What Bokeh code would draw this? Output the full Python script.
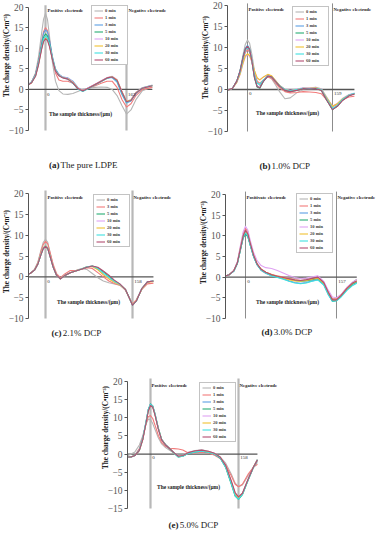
from bokeh.plotting import figure
from bokeh.models import Range1d, FixedTicker, Label, Legend, LegendItem, Spacer, Title
from bokeh.layouts import column, row
from bokeh.embed import file_html
from bokeh.resources import INLINE

SERIF = "Liberation Serif"

# ---------------- data ----------------
NAMES8 = ["0 min", "1 min", "3 min", "5 min", "10 min", "20 min", "30 min", "60 min"]
NAMES7 = ["0 min", "3 min", "5 min", "10 min", "20 min", "30 min", "60 min"]
COL8 = ["#b5b5b5", "#f27b7b", "#5b9fe3", "#27ae74", "#dfa3f2", "#f1c232", "#3fe0e0", "#b34d72"]
COL7 = ["#b5b5b5", "#f27b7b", "#27ae74", "#dfa3f2", "#f1c232", "#3fe0e0", "#b34d72"]

# (a) pure LDPE
A_X = [-36, -28, -20, -14, -8, -4, 0, 4, 8, 14, 20, 27, 35, 45, 55, 65, 75, 88, 100, 112, 124, 134, 144, 154, 163, 172, 182, 195, 215]
A_0 = [1.0, 1.8, 4.0, 8.0, 13.5, 17.0, 18.5, 17.0, 13.0, 6.5, 2.0, -0.3, -1.1, -1.2, -1.0, -0.5, 0.0, 0.3, 0.5, 0.6, 0.5, 0.0, -1.5, -4.0, -6.0, -5.0, -2.5, -0.3, 0.6]
A_1 = [1.0, 1.8, 3.8, 7.0, 11.5, 14.0, 15.0, 14.3, 12.0, 7.5, 4.0, 2.3, 2.0, 2.0, 1.5, 0.3, -0.2, 0.3, 0.9, 1.5, 2.0, 2.0, 0.5, -2.5, -4.3, -3.5, -1.5, 0.0, 0.5]
A_3 = [1.0, 1.8, 3.7, 6.8, 11.0, 13.6, 14.5, 14.0, 12.0, 8.0, 5.0, 3.7, 3.0, 2.8, 2.0, 0.5, -0.3, 0.5, 1.2, 2.0, 2.7, 2.9, 1.8, -1.3, -3.3, -2.8, -1.0, 0.3, 1.0]
A_5 = [1.0, 1.7, 3.5, 6.5, 10.5, 12.7, 13.5, 13.0, 11.2, 7.6, 4.8, 3.5, 2.9, 2.6, 1.6, 0.2, -0.4, 0.4, 1.2, 2.0, 2.8, 3.1, 2.2, -0.8, -3.0, -2.6, -0.8, 0.4, 1.0]
A_10 = [1.0, 1.7, 3.4, 6.3, 10.0, 12.0, 12.8, 12.3, 10.8, 7.4, 4.7, 3.5, 3.0, 2.7, 1.8, 0.4, -0.3, 0.5, 1.3, 2.1, 2.9, 3.2, 2.4, -0.5, -2.8, -2.5, -0.7, 0.4, 1.0]
A_20 = [1.0, 1.6, 3.3, 6.1, 9.8, 11.8, 12.5, 12.1, 10.6, 7.3, 4.6, 3.4, 2.9, 2.6, 1.7, 0.3, -0.4, 0.4, 1.2, 2.0, 2.8, 3.1, 2.3, -0.6, -2.9, -2.6, -0.8, 0.3, 0.9]
A_30 = [1.0, 1.7, 3.4, 6.3, 10.1, 12.2, 13.0, 12.5, 10.9, 7.4, 4.7, 3.4, 2.9, 2.5, 1.5, 0.1, -0.5, 0.3, 1.1, 1.9, 2.7, 3.0, 2.0, -0.9, -3.1, -2.7, -0.9, 0.3, 0.9]
A_60 = [1.0, 1.6, 3.2, 6.0, 9.6, 11.6, 12.3, 11.9, 10.4, 7.2, 4.5, 3.3, 2.8, 2.5, 1.6, 0.2, -0.4, 0.4, 1.2, 2.0, 2.8, 3.0, 2.2, -0.7, -3.0, -2.7, -0.9, 0.3, 0.9]
A_TICKS = [0, 163]

# (b) 1.0% DCP
B_X = [-37, -28, -20, -14, -8, -4, 0, 4, 8, 13, 18, 23, 30, 38, 45, 52, 60, 70, 80, 92, 104, 116, 128, 138, 148, 159, 168, 178, 190, 200]
B_0 = [-0.2, 0.3, 2.0, 4.5, 8.5, 10.8, 11.8, 11.0, 8.5, 4.5, 1.8, 1.0, 2.2, 3.0, 2.6, 1.2, -0.5, -2.2, -2.0, -0.8, 0.0, 0.3, 0.5, 0.2, -1.8, -4.2, -3.5, -2.3, -1.4, -1.0]
B_1 = [-0.2, 0.3, 1.8, 4.0, 7.2, 8.8, 9.5, 8.9, 7.0, 4.0, 2.0, 1.5, 2.3, 3.0, 2.7, 1.6, 0.4, -0.5, -0.8, -0.7, -0.5, -0.6, -0.7, -1.0, -2.5, -4.0, -3.5, -2.4, -1.8, -1.6]
B_3 = [-0.2, 0.3, 2.0, 4.4, 8.0, 9.8, 10.5, 9.7, 7.0, 3.0, 0.8, 0.4, 2.0, 3.3, 3.1, 2.1, 0.9, -0.1, -0.4, -0.1, 0.3, 0.1, 0.3, -0.1, -2.4, -4.7, -3.9, -2.4, -1.3, -0.9]
B_5 = [-0.2, 0.3, 2.0, 4.3, 7.8, 9.6, 10.3, 9.5, 6.8, 2.8, 0.6, 0.3, 2.0, 3.2, 3.0, 2.0, 0.8, -0.2, -0.5, -0.2, 0.2, 0.0, 0.2, -0.2, -2.5, -4.8, -4.0, -2.5, -1.4, -1.0]
B_10 = [-0.2, 0.3, 1.7, 3.5, 6.3, 7.8, 8.3, 7.9, 6.6, 4.4, 2.7, 2.3, 3.0, 3.5, 3.2, 2.2, 1.0, 0.1, -0.2, 0.1, 0.4, 0.4, 0.5, 0.1, -1.9, -3.9, -3.3, -2.1, -1.2, -0.9]
B_20 = [-0.2, 0.3, 1.7, 3.6, 6.5, 8.0, 8.5, 8.1, 6.8, 4.5, 2.8, 2.3, 3.0, 3.6, 3.3, 2.2, 1.0, 0.0, -0.3, 0.0, 0.3, 0.3, 0.4, 0.0, -2.0, -4.0, -3.4, -2.2, -1.3, -1.0]
B_30 = [-0.2, 0.3, 1.9, 4.1, 7.5, 9.3, 10.0, 9.3, 7.0, 3.5, 1.5, 1.2, 2.3, 3.2, 3.0, 2.0, 0.9, 0.0, -0.3, 0.0, 0.3, 0.2, 0.3, 0.0, -2.2, -4.5, -3.8, -2.3, -1.3, -0.9]
B_60 = [-0.2, 0.3, 2.0, 4.3, 7.8, 9.6, 10.3, 9.5, 6.9, 2.9, 0.7, 0.4, 2.0, 3.2, 3.0, 2.0, 0.8, -0.2, -0.5, -0.2, 0.2, 0.1, 0.2, -0.2, -2.5, -4.8, -4.0, -2.6, -1.5, -1.1]
B_TICKS = [0, 159]

# (c) 2.1% DCP
C_X = [-36, -28, -20, -14, -8, -4, 0, 4, 8, 14, 20, 27, 35, 45, 55, 65, 75, 85, 95, 105, 115, 125, 135, 145, 152, 158, 165, 175, 185, 196]
C_0 = [0.5, 0.8, 1.8, 3.5, 6.5, 8.3, 9.0, 8.3, 6.0, 2.5, 0.3, -0.4, 0.3, 1.0, 1.5, 2.0, 1.8, 0.8, -0.2, -1.0, -1.4, -1.7, -2.0, -3.0, -5.0, -6.6, -5.5, -2.8, -1.3, -1.0]
C_3 = [0.5, 0.8, 1.7, 3.3, 6.2, 7.8, 8.5, 7.9, 6.0, 3.0, 0.8, -0.2, 0.7, 1.5, 1.5, 1.8, 2.2, 2.0, 1.0, 0.0, -1.0, -1.6, -2.0, -3.2, -5.0, -6.5, -5.5, -3.0, -1.7, -1.5]
C_5 = [0.5, 0.8, 1.6, 3.0, 5.4, 6.8, 7.3, 6.8, 5.0, 2.3, 0.4, -0.5, 0.3, 1.0, 1.4, 1.8, 2.3, 2.6, 2.2, 1.2, 0.2, -1.0, -1.8, -3.0, -5.0, -6.8, -5.8, -2.8, -1.2, -1.0]
C_10 = [0.5, 0.8, 1.6, 3.1, 5.6, 7.0, 7.5, 7.0, 5.2, 2.4, 0.4, -0.5, 0.3, 1.0, 1.4, 1.9, 2.4, 2.5, 1.8, 0.6, -0.4, -1.2, -1.8, -3.0, -5.0, -6.7, -5.7, -2.8, -1.2, -1.0]
C_20 = [0.5, 0.8, 1.6, 3.1, 5.6, 7.0, 7.5, 7.0, 5.2, 2.4, 0.4, -0.5, 0.3, 1.0, 1.4, 1.9, 2.4, 2.5, 1.7, 0.5, -0.5, -1.3, -1.9, -3.0, -5.0, -6.7, -5.7, -2.9, -1.3, -1.1]
C_30 = [0.5, 0.8, 1.6, 3.0, 5.5, 6.9, 7.4, 6.9, 5.1, 2.3, 0.4, -0.5, 0.3, 1.0, 1.4, 1.9, 2.4, 2.6, 2.0, 0.9, -0.1, -1.1, -1.8, -3.0, -5.0, -6.8, -5.8, -2.8, -1.2, -1.0]
C_60 = [0.5, 0.8, 1.6, 3.0, 5.4, 6.8, 7.3, 6.8, 5.0, 2.3, 0.4, -0.5, 0.3, 1.0, 1.4, 1.8, 2.3, 2.6, 2.3, 1.4, 0.4, -0.8, -1.7, -3.0, -5.0, -6.8, -5.8, -2.8, -1.2, -1.0]
C_TICKS = [0, 158]

# (d) 3.0% DCP
D_X = [-35, -28, -20, -14, -8, -4, 0, 4, 8, 14, 20, 27, 35, 45, 55, 65, 75, 85, 95, 105, 115, 125, 135, 143, 150, 157, 165, 175, 185, 192]
D_0 = [0.3, 0.6, 1.6, 3.5, 7.5, 10.2, 11.5, 10.5, 8.0, 5.0, 3.0, 1.6, 0.9, 0.4, 0.1, -0.1, -0.2, -0.3, -0.4, -0.3, 0.0, 0.2, -1.2, -3.5, -5.2, -5.3, -4.3, -2.5, -1.2, -0.5]
D_1 = [0.3, 0.6, 1.6, 3.6, 7.8, 10.5, 11.8, 11.0, 8.6, 5.4, 3.2, 1.9, 1.2, 0.7, 0.3, 0.0, -0.3, -0.6, -0.8, -0.7, -0.4, -0.1, -1.5, -3.8, -5.3, -5.2, -4.2, -2.6, -1.4, -0.9]
D_3 = [0.3, 0.6, 1.5, 3.3, 7.0, 9.5, 10.5, 9.8, 7.8, 5.0, 3.0, 1.7, 1.0, 0.4, 0.0, -0.4, -0.9, -1.3, -1.5, -1.3, -0.9, -0.6, -1.8, -4.2, -5.8, -5.6, -4.6, -3.0, -1.8, -1.3]
D_5 = [0.3, 0.6, 1.5, 3.3, 7.0, 9.5, 10.5, 9.8, 7.8, 5.0, 3.0, 1.8, 1.1, 0.5, 0.1, -0.2, -0.5, -0.8, -1.0, -0.9, -0.6, -0.3, -1.6, -4.0, -5.8, -5.7, -4.6, -2.9, -1.6, -1.1]
D_10 = [0.3, 0.6, 1.7, 3.8, 8.2, 11.0, 12.3, 11.4, 9.0, 6.0, 4.0, 2.8, 2.3, 2.1, 1.6, 1.0, 0.4, -0.1, -0.4, -0.2, 0.1, 0.3, -1.0, -3.2, -4.8, -5.0, -4.2, -2.5, -1.2, -0.6]
D_20 = [0.3, 0.6, 1.6, 3.5, 7.4, 10.0, 11.0, 10.3, 8.2, 5.3, 3.2, 1.9, 1.2, 0.6, 0.2, -0.2, -0.6, -0.9, -1.0, -0.8, -0.5, -0.2, -1.5, -3.9, -5.5, -5.5, -4.4, -2.8, -1.5, -1.0]
D_30 = [0.3, 0.6, 1.5, 3.4, 7.2, 9.7, 10.7, 10.0, 7.9, 5.0, 3.0, 1.7, 1.0, 0.3, -0.1, -0.5, -1.0, -1.4, -1.6, -1.4, -1.0, -0.7, -1.9, -4.3, -5.8, -5.7, -4.8, -3.2, -2.0, -1.5]
D_60 = [0.3, 0.6, 1.6, 3.5, 7.4, 10.0, 11.3, 10.5, 8.3, 5.3, 3.2, 1.9, 1.2, 0.6, 0.2, -0.1, -0.4, -0.7, -0.8, -0.6, -0.3, 0.0, -1.3, -3.7, -5.5, -5.5, -4.4, -2.7, -1.4, -0.9]
D_TICKS = [0, 157]

# (e) 5.0% DCP
E_X = [-42, -35, -28, -20, -14, -8, -4, 0, 4, 8, 14, 20, 27, 35, 42, 50, 58, 68, 80, 92, 104, 115, 125, 135, 145, 152, 158, 165, 175, 185, 192]
E_0 = [-0.5, 0.0, 0.6, 2.5, 5.0, 8.3, 9.6, 9.5, 8.4, 6.8, 4.5, 2.8, 1.8, 1.0, 0.3, -0.3, -0.2, 0.5, 1.0, 1.2, 0.8, 0.2, -0.8, -2.5, -5.5, -8.0, -9.0, -8.5, -6.0, -3.6, -2.3]
E_1 = [-0.8, -0.8, -0.3, 1.5, 4.5, 8.5, 10.3, 10.6, 9.8, 8.0, 5.2, 3.2, 2.1, 1.6, 1.5, 1.4, 1.1, 0.3, 0.3, 0.5, 0.3, -0.3, -1.2, -3.0, -6.0, -8.3, -9.0, -8.3, -5.6, -3.6, -2.8]
E_3 = [-0.8, -0.8, -0.4, 1.2, 4.2, 9.0, 12.3, 13.8, 13.2, 11.0, 7.0, 4.0, 2.6, 1.5, 0.4, -0.7, -0.5, 0.2, 0.6, 0.8, 0.5, 0.0, -1.0, -3.5, -8.0, -11.3, -12.3, -11.0, -7.2, -3.6, -1.6]
E_5 = [-0.8, -0.8, -0.4, 1.1, 4.0, 8.8, 12.2, 13.8, 13.3, 11.2, 7.2, 4.1, 2.6, 1.4, 0.3, -0.8, -0.6, 0.2, 0.6, 0.8, 0.5, 0.0, -1.1, -3.7, -8.3, -11.6, -12.5, -11.2, -7.3, -3.6, -1.6]
E_10 = [-0.8, -0.8, -0.4, 1.1, 4.0, 8.7, 12.0, 13.6, 13.1, 11.0, 7.0, 4.0, 2.5, 1.4, 0.3, -0.7, -0.5, 0.3, 0.7, 0.9, 0.6, 0.1, -0.9, -3.3, -7.6, -10.9, -12.0, -10.8, -7.0, -3.5, -1.6]
E_20 = [-0.8, -0.8, -0.4, 1.0, 3.9, 8.6, 11.9, 13.5, 13.0, 10.9, 7.0, 4.0, 2.5, 1.4, 0.3, -0.7, -0.5, 0.3, 0.7, 0.9, 0.6, 0.1, -0.9, -3.3, -7.6, -10.9, -12.0, -10.9, -7.1, -3.5, -1.6]
E_30 = [-0.8, -0.8, -0.4, 1.1, 4.1, 8.9, 12.2, 13.7, 13.2, 11.1, 7.1, 4.0, 2.5, 1.4, 0.3, -0.8, -0.6, 0.2, 0.6, 0.8, 0.5, 0.0, -1.0, -3.6, -8.1, -11.5, -12.4, -11.1, -7.2, -3.6, -1.6]
E_60 = [-0.8, -0.8, -0.4, 1.0, 3.9, 8.5, 11.8, 13.4, 12.9, 10.8, 6.9, 3.9, 2.5, 1.4, 0.4, -0.6, -0.4, 0.4, 0.9, 1.1, 0.8, 0.2, -0.8, -3.1, -7.3, -10.6, -11.8, -10.8, -7.0, -3.5, -1.6]
E_TICKS = [0, 158]

Y_TICKS_AD = [-10, -5, 0, 5, 10, 15, 20]
Y_TICKS_E = [-15, -10, -5, 0, 5, 10, 15, 20]

Y_TITLE = "The charge density/(C\u2022m\u207b\u00b3)"
X_TITLE = "The sample thickness/(\u03bcm)"


def make_panel(xs, series, names, colors, ticks, yticks, xr, yr, w, h, mbl,
               span_color, span_width, line_top, pos_text, pos_x, neg_x, text_y,
               thick_xy, title_off, tick_lab_y, legend_loc,
               cap_tag, cap_rest, cap_xy):
    for s in series:
        assert len(s) == len(xs), (cap_tag, len(s), len(xs))
    p = figure(width=w, height=h, x_range=Range1d(*xr), y_range=Range1d(*yr),
               output_backend="svg", toolbar_location=None, title=None,
               min_border_left=mbl, min_border_right=0, min_border_top=0,
               min_border_bottom=0)
    p.outline_line_color = None
    p.grid.visible = False
    p.xaxis.visible = False
    ya = p.yaxis[0]
    ya.ticker = FixedTicker(ticks=yticks)
    ya.bounds = (yticks[0], yticks[-1])
    ya.major_label_text_font = SERIF
    ya.major_label_text_font_size = "9.5px"
    ya.major_label_text_color = "#555555"
    ya.axis_line_color = "#555555"
    ya.major_tick_line_color = "#555555"
    ya.major_tick_out = 3
    ya.major_tick_in = 0
    ya.minor_tick_line_color = None
    ya.major_label_standoff = 2
    ya.axis_label_standoff = 0

    p.add_layout(Title(text=Y_TITLE, align="left", offset=title_off, standoff=-10,
                       text_font=SERIF, text_font_size="7.2px",
                       text_font_style="bold", text_color="#222222"), "left")

    # electrode lines (vertical) and the x axis line at zero
    p.segment(x0=ticks, y0=[yticks[0]] * len(ticks), x1=ticks, y1=[line_top] * len(ticks),
              line_color=span_color, line_width=span_width)
    p.line([xs[0], xs[-1]], [0, 0], line_color="#555555", line_width=1.3)

    items = []
    for name, col, ys in zip(names, colors, series):
        r = p.line(xs, ys, line_color=col, line_width=1.1, line_join="round")
        items.append(LegendItem(label=name, renderers=[r]))
    lg = Legend(items=items, location=legend_loc, label_text_font=SERIF,
                label_text_font_size="4.5px", label_text_font_style="bold",
                label_height=5, glyph_height=5, glyph_width=9, label_standoff=2,
                spacing=2, padding=2, margin=0, border_line_color="#888888",
                border_line_width=0.8, background_fill_alpha=1.0)
    p.add_layout(lg)

    def lab(x, y, text, size, style="normal", align="left", color="#222222"):
        p.add_layout(Label(x=x, y=y, text=text, text_font=SERIF,
                           text_font_size=size, text_font_style=style,
                           text_align=align, text_baseline="middle",
                           text_color=color))

    lab(pos_x, text_y, pos_text, "4.8px", "bold")
    lab(neg_x, text_y, "Negative electrode", "4.8px", "bold")
    lab(thick_xy[0], thick_xy[1], X_TITLE, "5.5px", "bold", align="center")
    for t in ticks:
        lab(t + 3, tick_lab_y, str(t), "5px", "normal", color="#333333")
    lab(cap_xy[0], cap_xy[1], cap_tag, "9px", "bold", align="right")
    lab(cap_xy[0] + 2, cap_xy[1], cap_rest, "9px", "normal", align="left")
    return p


pa = make_panel(A_X, [A_0, A_1, A_3, A_5, A_10, A_20, A_30, A_60], NAMES8, COL8, A_TICKS,
                Y_TICKS_AD, (-34.2, 291.8), (-21.19, 21.63), 190, 176, 28,
                "#b8b8b8", 2.2, 20.5, "Positive electrode", 4.0, 167.0, 19.2,
                (70.4, -5.94), 79.5, -1.24, (63, 111),
                "(a)", "The pure LDPE", (28.2, -18.5))

pb = make_panel(B_X, [B_0, B_1, B_3, B_5, B_10, B_20, B_30, B_60], NAMES8, COL8, B_TICKS,
                Y_TICKS_AD, (-37.4, 246.9), (-20.71, 21.19), 189, 176, 37,
                "#8c8c8c", 1.0, 20.5, "Positive electrode", 1.9, 160.9, 19.05,
                (74.8, -5.71), 77.5, -1.0, (65, 110),
                "(b)", "1.0% DCP", (43.0, -18.1))

pc = make_panel(C_X, [C_0, C_3, C_5, C_10, C_20, C_30, C_60], NAMES7, COL7, C_TICKS,
                Y_TICKS_AD, (-30.9, 263.3), (-15.76, 24.08), 190, 166, 28,
                "#b8b8b8", 2.2, 20.7, "Positive electrode", 3.6, 159.8, 19.04,
                (78.1, -5.92), 49.5, -1.12, (65, 95),
                "(c)", "2.1% DCP", (29.1, -13.36))

pd_ = make_panel(D_X, [D_0, D_1, D_3, D_5, D_10, D_20, D_30, D_60], NAMES8, COL8, D_TICKS,
                 Y_TICKS_AD, (-34.5, 231.2), (-15.81, 24.35), 189, 166, 35,
                 "#8c8c8c", 1.0, 20.7, "Positivate electrode", 1.7, 158.7, 19.27,
                 (72.5, -6.13), 58.5, -1.05, (71, 89),
                 "(d)", "3.0% DCP", (46.6, -13.39))

pe = make_panel(E_X, [E_0, E_1, E_3, E_5, E_10, E_20, E_30, E_60], NAMES8, COL8, E_TICKS,
                Y_TICKS_E, (-41.3, 269.3), (-25.47, 30.75), 210, 204, 37,
                "#b8b8b8", 2.2, 20.8, "Positive electrode", 1.8, 159.8, 18.9,
                (68.2, -8.94), 77.5, -0.94, (72, 104),
                "(e)", "5.0% DCP", (50.3, -19.68))

layout = column(row(pa, pb), row(pc, pd_), row(Spacer(width=90, height=204), pe))

open("out.html", "w").write(file_html(layout, INLINE))
